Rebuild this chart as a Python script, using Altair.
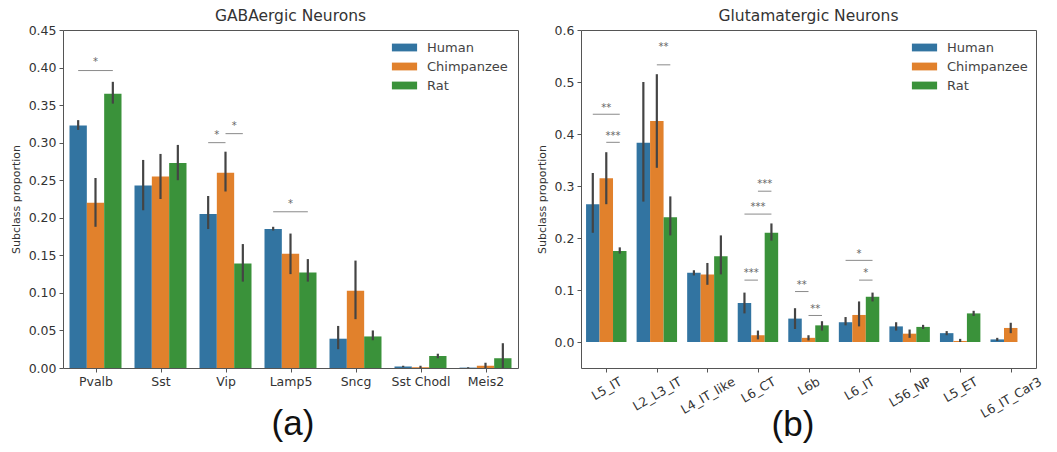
import altair as alt
import pandas as pd

species = ["Human", "Chimpanzee", "Rat"]
colors = ["#3274a1", "#e1812c", "#3a923a"]

# ---------------- GABAergic ----------------
gaba_cats = ["Pvalb", "Sst", "Vip", "Lamp5", "Sncg", "Sst Chodl", "Meis2"]
gaba_mean = {
    "Human":      [0.323, 0.243, 0.205, 0.185, 0.039, 0.002, 0.0005],
    "Chimpanzee": [0.220, 0.255, 0.260, 0.152, 0.103, 0.001, 0.003],
    "Rat":        [0.365, 0.273, 0.139, 0.127, 0.042, 0.016, 0.013],
}
gaba_lo = {
    "Human":      [0.317, 0.210, 0.185, 0.183, 0.025, 0.001, 0.000],
    "Chimpanzee": [0.188, 0.225, 0.235, 0.125, 0.065, 0.000, 0.000],
    "Rat":        [0.352, 0.250, 0.115, 0.115, 0.037, 0.013, 0.000],
}
gaba_hi = {
    "Human":      [0.330, 0.277, 0.229, 0.188, 0.056, 0.003, 0.001],
    "Chimpanzee": [0.253, 0.285, 0.288, 0.179, 0.143, 0.003, 0.007],
    "Rat":        [0.381, 0.297, 0.165, 0.145, 0.050, 0.019, 0.033],
}
# (category, species a, species b, line value, star value, label)
gaba_sig = [
    ("Pvalb", "Human", "Rat", 0.396, 0.407, "*"),
    ("Vip", "Human", "Chimpanzee", 0.300, 0.310, "*"),
    ("Vip", "Chimpanzee", "Rat", 0.312, 0.322, "*"),
    ("Lamp5", "Human", "Rat", 0.208, 0.218, "*"),
]
gaba_yticks = [0.0, 0.05, 0.10, 0.15, 0.20, 0.25, 0.30, 0.35, 0.40, 0.45]

# ---------------- Glutamatergic ----------------
glut_cats = ["L5_IT", "L2_L3_IT", "L4_IT_like", "L6_CT", "L6b", "L6_IT",
             "L56_NP", "L5_ET", "L6_IT_Car3"]
glut_mean = {
    "Human":      [0.265, 0.383, 0.133, 0.075, 0.045, 0.038, 0.030, 0.017, 0.005],
    "Chimpanzee": [0.315, 0.425, 0.130, 0.013, 0.008, 0.052, 0.016, 0.002, 0.027],
    "Rat":        [0.175, 0.240, 0.165, 0.210, 0.032, 0.087, 0.029, 0.055, None],
}
glut_lo = {
    "Human":      [0.210, 0.270, 0.128, 0.055, 0.025, 0.032, 0.022, 0.013, 0.002],
    "Chimpanzee": [0.265, 0.335, 0.110, 0.005, 0.003, 0.030, 0.008, 0.000, 0.017],
    "Rat":        [0.170, 0.205, 0.130, 0.195, 0.022, 0.078, 0.025, 0.050, None],
}
glut_hi = {
    "Human":      [0.325, 0.500, 0.138, 0.095, 0.065, 0.048, 0.038, 0.021, 0.008],
    "Chimpanzee": [0.365, 0.515, 0.152, 0.022, 0.013, 0.078, 0.024, 0.006, 0.037],
    "Rat":        [0.182, 0.280, 0.205, 0.228, 0.040, 0.095, 0.033, 0.060, None],
}
glut_sig = [
    ("L5_IT", "Human", "Rat", 0.438, 0.450, "**"),
    ("L5_IT", "Chimpanzee", "Rat", 0.384, 0.397, "***"),
    ("L2_L3_IT", "Chimpanzee", "Rat", 0.533, 0.567, "**"),
    ("L6_CT", "Chimpanzee", "Rat", 0.290, 0.303, "***"),
    ("L6_CT", "Human", "Rat", 0.246, 0.259, "***"),
    ("L6_CT", "Human", "Chimpanzee", 0.119, 0.132, "***"),
    ("L6b", "Human", "Chimpanzee", 0.097, 0.110, "**"),
    ("L6b", "Chimpanzee", "Rat", 0.051, 0.064, "**"),
    ("L6_IT", "Human", "Rat", 0.157, 0.170, "*"),
    ("L6_IT", "Chimpanzee", "Rat", 0.119, 0.132, "*"),
]
glut_yticks = [0.0, 0.1, 0.2, 0.3, 0.4, 0.5, 0.6]

BW = 0.8 / 3  # seaborn-style bar width in category units
TICK_FONT = 12.5

# approximate DejaVu Sans glyph widths (em) used to place rotated labels
GLYPH_W = {"L": .557, "_": .5, "I": .295, "T": .611, "C": .698, "N": .748,
           "P": .603, "E": .632, "i": .278, "k": .579, "e": .615, "b": .635,
           "a": .613, "r": .411, "l": .278}


def text_w(s, fs):
    return sum(GLYPH_W.get(ch, .636) for ch in s) * fs


def build_table(cats, mean, lo, hi):
    rows = []
    for i, c in enumerate(cats):
        for j, s in enumerate(species):
            m = mean[s][i]
            if m is None:
                continue
            pos = i + (j - 1) * BW
            rows.append(dict(cat=c, species=s, pos=pos, x0=pos - BW / 2,
                             x1=pos + BW / 2, mean=m, lo=lo[s][i], hi=hi[s][i]))
    return pd.DataFrame(rows)


def build_sig(cats, sig):
    rows = []
    for c, a, b, ly, sy, lab in sig:
        i = cats.index(c)
        xa = i + (species.index(a) - 1) * BW
        xb = i + (species.index(b) - 1) * BW
        rows.append(dict(xa=xa, xb=xb, xm=(xa + xb) / 2, ly=ly, sy=sy, lab=lab))
    return pd.DataFrame(rows)


def panel(title, cats, mean, lo, hi, sig, ydom, yticks, yfmt, rotate,
          tag, tag_x, tag_y, leg_x):
    n = len(cats)
    df = build_table(cats, mean, lo, hi)
    sdf = build_sig(cats, sig)
    names = "[" + ",".join("'%s'" % c for c in cats) + "]"
    xs = alt.Scale(domain=[-0.5, n - 0.5], nice=False, zero=False)
    ys = alt.Scale(domain=ydom, nice=False, zero=False)
    if rotate:
        conds = [{"test": "datum.value == %d" % i,
                  "value": round(0.433 * text_w(c, TICK_FONT) - 3, 1)}
                 for i, c in enumerate(cats)]
        xaxis = alt.Axis(values=list(range(n)), labelExpr=names + "[datum.value]",
                         title=None, labelAngle=330, labelAlign="right",
                         labelBaseline="top", labelPadding=3, labelOverlap=False,
                         labelBound=False, labelFlush=False,
                         labelOffset={"condition": conds, "value": 0})
    else:
        xaxis = alt.Axis(values=list(range(n)), labelExpr=names + "[datum.value]",
                         title=None, labelAngle=0, labelOverlap=False,
                         labelFlush=False)
    yaxis = alt.Axis(values=yticks, format=yfmt, title="Subclass proportion",
                     labelOverlap=False, labelFlush=False, labelBound=False)

    base = alt.Chart(df)
    bars = base.mark_bar().encode(
        x=alt.X("x0:Q", scale=xs, axis=xaxis),
        x2="x1:Q",
        y=alt.Y("mean:Q", scale=ys, axis=yaxis),
        y2=alt.datum(0),
        color=alt.Color("species:N", scale=alt.Scale(domain=species, range=colors),
                        legend=alt.Legend(
                            title=None, orient="none", legendX=leg_x, legendY=11,
                            symbolType="M-2.1,-0.65L2.1,-0.65L2.1,0.65L-2.1,0.65Z",
                            symbolSize=144, symbolStrokeWidth=0, labelFontSize=13,
                            labelColor="#444", labelFont="DejaVu Sans",
                            rowPadding=5, labelOffset=16, padding=0)),
    )
    err = base.mark_rule(color="#444444", strokeWidth=2.2).encode(
        x=alt.X("pos:Q", scale=xs, axis=xaxis),
        y=alt.Y("lo:Q", scale=ys, axis=yaxis), y2="hi:Q")
    lines = alt.Chart(sdf).mark_rule(color="#8a8a8a", strokeWidth=1).encode(
        x=alt.X("xa:Q", scale=xs, axis=xaxis), x2="xb:Q",
        y=alt.Y("ly:Q", scale=ys, axis=yaxis))
    stars = alt.Chart(sdf).mark_text(color="#666", fontSize=10, baseline="middle",
                                     font="DejaVu Sans").encode(
        x=alt.X("xm:Q", scale=xs, axis=xaxis),
        y=alt.Y("sy:Q", scale=ys, axis=yaxis), text="lab:N")
    tagc = alt.Chart(pd.DataFrame({"t": [tag]})).mark_text(
        fontSize=35, font="Liberation Sans", color="#111", baseline="middle").encode(
        text="t:N", x=alt.value(tag_x), y=alt.value(tag_y))
    return alt.layer(bars, err, lines, stars, tagc).properties(
        width=455, height=338,
        title=alt.TitleParams(title, fontSize=15.5, fontWeight="normal",
                              color="#333", font="DejaVu Sans", offset=0))


left = panel("GABAergic Neurons", gaba_cats, gaba_mean, gaba_lo, gaba_hi, gaba_sig,
             [0, 0.45], gaba_yticks, ".2f", False, "(a)", 230, 394, 335)
right = panel("Glutamatergic Neurons", glut_cats, glut_mean, glut_lo, glut_hi, glut_sig,
              [-0.05, 0.6], glut_yticks, ".1f", True, "(b)", 212, 395, 337)

chart = alt.hconcat(left, right, spacing=63, bounds="flush").resolve_scale(
    color="independent", x="independent", y="independent"
).resolve_legend(color="independent").properties(
    padding={"left": 1, "top": 0, "right": 0, "bottom": 0}
).configure_view(stroke="#555", strokeWidth=1).configure_axis(
    domain=False, grid=False, tickColor="#555", tickSize=4,
    labelFont="DejaVu Sans", labelFontSize=TICK_FONT, labelColor="#333",
    titleFont="DejaVu Sans", titleFontSize=11, titleFontWeight="normal",
    titleColor="#333", labelPadding=3, titlePadding=7)

chart.save("out.html", embed_options={"renderer": "svg", "actions": False})
